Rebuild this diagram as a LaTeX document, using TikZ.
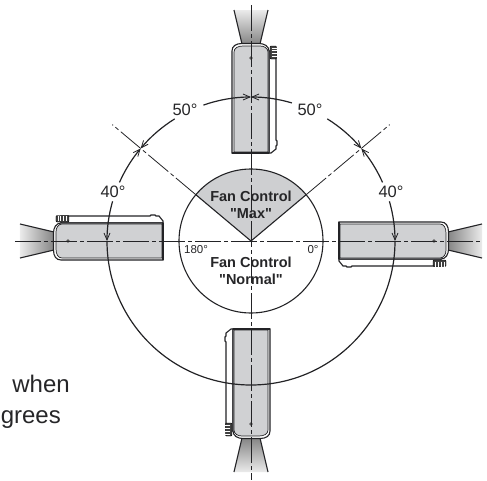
\documentclass[tikz,border=0pt]{standalone}
\usepackage{fontspec}
\setmainfont{Liberation Sans}
\usetikzlibrary{arrows.meta}
\definecolor{BodyGray}{RGB}{208, 209, 211}
\definecolor{SectorGray}{RGB}{206, 207, 209}
\definecolor{LineDark}{RGB}{35, 35, 38}
\definecolor{TextDark}{RGB}{38, 38, 40}

\begin{document}
\begin{tikzpicture}[
    x=1pt, y=1pt,
    every node/.style={align=center, inner sep=0pt, text=TextDark},
    angle label/.style={font=\fontsize{16.5}{18}\selectfont},
    small label/.style={font=\fontsize{11.5}{13}\selectfont},
    fan label/.style={font=\fontsize{14.5}{17.5}\selectfont\bfseries},
    side text/.style={font=\fontsize{24}{28}\selectfont, anchor=base east},
    center line/.style={draw=LineDark, line width=1pt, dash pattern=on 26pt off 3pt on 4pt off 3pt},
    diag line/.style={draw=LineDark, line width=0.8pt, dash pattern=on 26pt off 3pt on 4pt off 3pt},
    outline/.style={draw=LineDark, line width=1.1pt},
    sweep/.style={draw=LineDark, line width=1.2pt, -{Straight Barb[length=7pt, width=6pt, line width=0.8pt]}},
    pics/projector/.style={code={
      \begin{scope}[rotate=#1]
        % Beam
        \shade[top color=white!92!black, bottom color=black!48, shading angle=#1] (-17,231) -- (17,231) -- (9,197) -- (-9,197) -- cycle;
        \draw[outline] (-17,231) -- (-9,197);
        \draw[outline] (17,231) -- (9,197);
        % Side strip
        \draw[outline, fill=white] (18,190) -- (25,190) -- (25,101) -- (26,100) -- (26,96) -- (25,95) -- (25,92) -- (20,88) -- (18,88) -- cycle;
        % Housing
        \draw[outline, fill=white] (-19,88) -- (-19,190) .. controls (-19,195) and (-15,197.5) .. (-9,197.5) -- (8,197.5) .. controls (13,197.5) and (18,195) .. (18,190) -- (18,88) -- cycle;
        \draw[draw=LineDark, line width=0.7pt, fill=BodyGray] (-17,89) -- (-17,189) .. controls (-17,193) and (-13,195) .. (-8,195) -- (9,195) .. controls (13,195) and (17,193) .. (17,189) -- (17,89) -- cycle;
        \draw[draw=LineDark, line width=1.4pt] (-19,88) -- (18,88);
        % Knob
        \draw[draw=black, fill=black!75, rounded corners=1pt] (19,182) rectangle (25.5,195);
        \foreach \ridge in {184.5,187.5,190.5,193} {
          \draw[white, line width=0.7pt] (20.5,\ridge) -- (25.5,\ridge);
        }
        % Lens mark
        \fill[black!65] (0,183) circle (1.8);
      \end{scope}
    }}
  ]
    \useasboundingbox (-251,-239) rectangle (236,241);

    % Projectors
    \pic {projector=0};
    \pic {projector=90};
    \pic {projector=180};
    \pic {projector=-90};

    % Dial
    \fill[SectorGray] (0,0) -- (40:72) arc[start angle=40, end angle=140, radius=72] -- cycle;
    \draw[outline] (0,0) circle (72);
    \draw[outline] (140:72) -- (0,0) -- (40:72);

    % Center lines
    \coordinate (topend) at (0,236);
    \coordinate (botend) at (0,-239);
    \coordinate (leftend) at (-236,0);
    \coordinate (rightend) at (229,0);
    \draw[center line] (topend) -- (botend);
    \draw[center line] (leftend) -- (rightend);
    \draw[diag line] (140:72) -- (140:181);
    \draw[diag line] (40:72) -- (40:181);

    % Sweep arcs
    \foreach \from/\to in {109.3/90, 73.5/90, 122/140, 156/140, 58/40, 24/40, 164/180, 16/0} {
      \draw[sweep] (\from:144) arc[start angle=\from, end angle=\to, radius=144];
    }
    \draw[draw=LineDark, line width=1.2pt] (180:144) arc[start angle=180, end angle=360, radius=144];

    % Angle labels
    \node[angle label] (fifl) at (-66,131) {50°};
    \node[angle label] (fifr) at (59,131) {50°};
    \node[angle label] (fortl) at (-138,49) {40°};
    \node[angle label] (fortr) at (140,49) {40°};
    \node[small label] (oneeighty) at (-55,-9) {180°};
    \node[small label] (zero) at (62,-9) {0°};

    % Fan labels
    \node[fan label] (fanmax) at (0,36) {Fan Control\\\textquotedbl Max\textquotedbl};
    \node[fan label] (fannormal) at (0,-30) {Fan Control\\\textquotedbl Normal\textquotedbl};

    % Cut off text
    \node[side text] (whenline) at (-181,-151) {when};
    \node[side text] (greesline) at (-190,-182) {grees};
  \end{tikzpicture}
\end{document}
